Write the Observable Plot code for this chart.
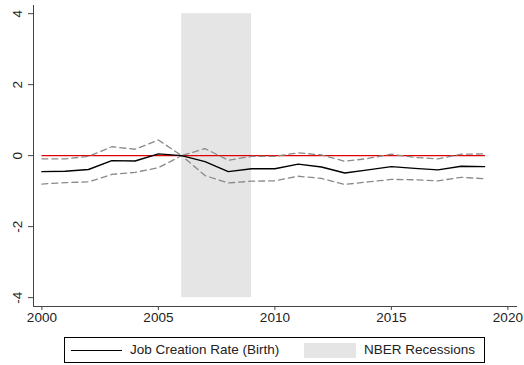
<!DOCTYPE html>
<html><head><meta charset="utf-8">
<script src="https://cdn.jsdelivr.net/npm/d3@7"></script>
<script src="https://cdn.jsdelivr.net/npm/@observablehq/plot@0.6"></script>
<style>
body{margin:0;background:#fff;font-family:"Liberation Sans",Arial,sans-serif;}
#wrap{position:relative;width:524px;height:365px;background:#fff;}
#legend{position:absolute;left:64px;top:337px;width:419px;height:24px;border:1px solid #000;box-sizing:content-box;font-size:13.5px;color:#222;}
#legend .ln{position:absolute;left:6px;top:12px;width:51px;border-top:1.3px solid #000;}
#legend .t1{position:absolute;left:65px;top:4px;white-space:nowrap;}
#legend .sw{position:absolute;left:239px;top:5px;width:52px;height:15px;background:#e5e5e5;}
#legend .t2{position:absolute;left:299px;top:4px;white-space:nowrap;}
</style></head><body>
<div id="wrap"><div id="chart"></div>
<div id="legend"><div class="ln"></div><div class="t1">Job Creation Rate (Birth)</div><div class="sw"></div><div class="t2">NBER Recessions</div></div>
</div>
<script>
const years    = [2000,2001,2002,2003,2004,2005,2006,2007,2008,2009,2010,2011,2012,2013,2014,2015,2016,2017,2018,2019];
const estimate = [-0.45,-0.44,-0.39,-0.14,-0.15,0.05,0,-0.17,-0.45,-0.37,-0.37,-0.24,-0.32,-0.49,-0.40,-0.31,-0.36,-0.40,-0.30,-0.31];
const upper    = [-0.09,-0.09,-0.02,0.25,0.18,0.44,0,0.20,-0.13,-0.02,-0.02,0.08,0.02,-0.16,-0.08,0.04,-0.05,-0.09,0.04,0.05];
const lower    = [-0.80,-0.76,-0.74,-0.53,-0.47,-0.34,0,-0.56,-0.77,-0.72,-0.71,-0.58,-0.64,-0.81,-0.74,-0.67,-0.68,-0.71,-0.61,-0.65];
const recessions = [{start:2006,end:2009,lo:-4,hi:4}];
const xTicks = [2000,2005,2010,2015,2020];
const yTicks = [-4,-2,0,2,4];
const xDomain = [1999.64,2020.37];
const yDomain = [-4.25,4.23];

const rows = years.map((y,i)=>({year:y,est:estimate[i],up:upper[i],lo:lower[i]}));
const zeroLine = [{year:years[0],v:0},{year:years[years.length-1],v:0}];

const chart = Plot.plot({
  width:524, height:330,
  marginLeft:33, marginRight:8, marginTop:5, marginBottom:24,
  style:{fontFamily:'"Liberation Sans",Arial,sans-serif',fontSize:"13.5px",color:"#222",background:"#fff"},
  x:{domain:xDomain},
  y:{domain:yDomain},
  marks:[
    Plot.rect(recessions,{x1:"start",x2:"end",y1:"lo",y2:"hi",fill:"#e5e5e5"}),
    Plot.line(zeroLine,{x:"year",y:"v",stroke:"#e00000",strokeWidth:1.1}),
    Plot.line(rows,{x:"year",y:"up",stroke:"#8a8a8a",strokeWidth:1.3,strokeDasharray:"6,4"}),
    Plot.line(rows,{x:"year",y:"lo",stroke:"#8a8a8a",strokeWidth:1.3,strokeDasharray:"6,4"}),
    Plot.line(rows,{x:"year",y:"est",stroke:"#000",strokeWidth:1.4}),
    Plot.frame({anchor:"left",stroke:"#444"}),
    Plot.frame({anchor:"bottom",stroke:"#444"}),
    Plot.axisX(xTicks,{tickSize:4,tickPadding:2,tickFormat:d=>String(d),stroke:"#444",fill:"#222"}),
    Plot.axisY(yTicks,{tickSize:5,tickPadding:7,tickRotate:-90,tickFormat:d=>String(d),stroke:"#444",fill:"#222"})
  ]
});
document.getElementById("chart").appendChild(chart);
</script>
</body></html>
